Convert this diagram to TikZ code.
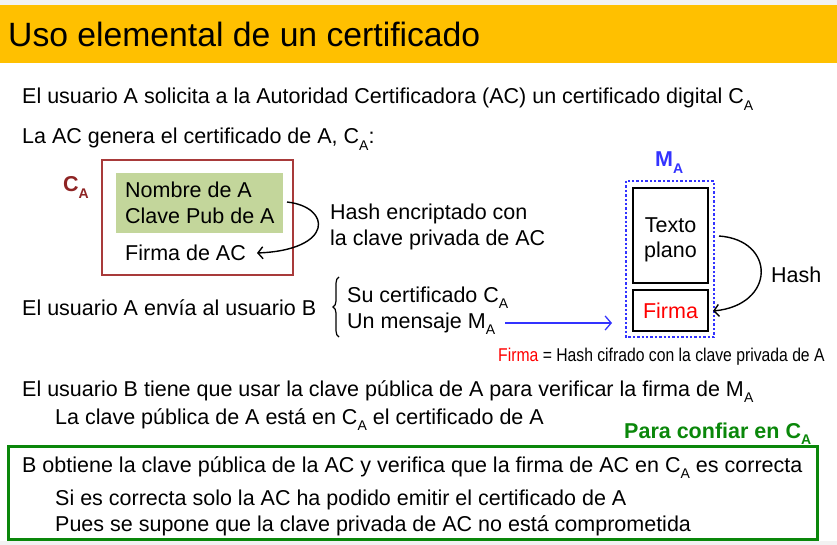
\documentclass[tikz,border=0pt]{standalone}
\usepackage{fontspec}
\setmainfont{Liberation Sans}
\usetikzlibrary{arrows.meta,decorations.pathreplacing}
\definecolor{titlebar}{HTML}{FFC000}
\definecolor{certred}{HTML}{8E2424}
\definecolor{certframe}{HTML}{A83A3A}
\definecolor{greenfill}{HTML}{C3D69B}
\definecolor{okgreen}{HTML}{0A870A}
\definecolor{msgblue}{HTML}{3333FF}
\definecolor{edgegray}{HTML}{F2F2F2}
\newcommand\subA[1]{\raisebox{-0.28em}{\fontsize{14}{14}\selectfont #1}}
\tikzset{
  body/.style={anchor=base west,inner sep=0pt,font=\fontsize{21.5}{25}\selectfont},
  barb/.style={-{Straight Barb[length=5pt,width=12pt,line width=1.4pt]}},
}
\begin{document}
\begin{tikzpicture}[x=1pt,y=-1pt]
\useasboundingbox (0,0) rectangle (837,545);
\fill[edgegray] (0,0) rectangle (837,5);
\fill[edgegray] (0,541) rectangle (837,545);
% title bar
\fill[titlebar] (0,5) rectangle (837,63);
\node[anchor=base west,inner sep=0pt,font=\fontsize{33.7}{38}\selectfont] (title) at (8,47) {Uso elemental de un certificado};

% first lines
\node[body] (l1) at (22,104) {El usuario A solicita a la Autoridad Certificadora (AC) un certificado digital C\subA{A}};
\node[body] (l2) at (22,144) {La AC genera el certificado de A, C\subA{A}:};

% certificate C_A
\node[anchor=base west,inner sep=0pt,text=certred,font=\fontsize{21.5}{25}\selectfont\bfseries] (calabel) at (63,192) {C\subA{A}};
\draw[certframe,line width=1.2pt] (102,160) rectangle (293,275);
\fill[greenfill] (116,173) rectangle (283,233);
\node[body] (nombre) at (125,198) {Nombre de A};
\node[body] (clave) at (125,224) {Clave Pub de A};
\node[body] (firmaac) at (125,260) {Firma de AC};
\coordinate (hashfrom) at (287,202);
\coordinate (hashto) at (257,253);
\draw[barb,line width=1.4pt] (hashfrom) .. controls (332,207) and (334,250) .. (hashto);
\node[body] (hash1) at (330,220) {Hash encriptado con};
\node[body] (hash2) at (330,246) {la clave privada de AC};

% A sends to B
\node[body] (envia) at (22,315) {El usuario A envía al usuario B};
\draw[line width=1.2pt,decorate,decoration={brace,amplitude=6pt}] (339,337) -- (339,277);
\node[body] (sucert) at (347,302) {Su certificado C\subA{A}};
\node[body] (mensaje) at (347,328) {Un mensaje M\subA{A}};
\coordinate (sendfrom) at (505,323);
\coordinate (sendto) at (612,323);
\draw[msgblue,line width=1.2pt,-{Straight Barb[length=6pt,width=14pt,line width=1.3pt]}] (sendfrom) -- (sendto);

% message M_A
\node[anchor=base west,inner sep=0pt,text=msgblue,font=\fontsize{21.5}{25}\selectfont\bfseries] (malabel) at (655,167) {M\subA{A}};
\draw[msgblue,line width=2.4pt,dotted] (626,181) rectangle (714,337);
\node[draw,line width=2pt,minimum width=75pt,minimum height=95pt,inner sep=0pt] (texto) at (670.5,235.5) {};
\node[align=center,inner sep=0pt,font=\fontsize{21.5}{25}\selectfont] (textolabel) at (670.5,240) {Texto\\plano};
\node[draw,line width=2pt,minimum width=75pt,minimum height=41pt,inner sep=0pt,
      text=red,font=\fontsize{21.5}{25}\selectfont] (firma) at (670.5,310.5) {Firma};
\coordinate (mhfrom) at (719,236);
\coordinate (mhto) at (713,311);
\draw[barb,line width=1.4pt] (mhfrom) .. controls (776,240) and (776,305) .. (mhto);
\node[body] (hashm) at (771,282) {Hash};
\node[anchor=base west,inner sep=0pt,font=\fontsize{18.5}{22}\selectfont] (note) at (498,361)
  {\scalebox{0.85}[1]{\textcolor{red}{Firma} = Hash cifrado con la clave privada de A}};

% B verifies
\node[body] (l3) at (22,396) {El usuario B tiene que usar la clave pública de A para verificar la firma de M\subA{A}};
\node[body] (l4) at (55,424) {La clave pública de A está en C\subA{A} el certificado de A};
\node[anchor=base west,inner sep=0pt,text=okgreen,font=\fontsize{21.5}{25}\selectfont\bfseries] (confiar) at (624,438) {Para confiar en C\subA{A}};
\draw[okgreen,line width=3pt] (8,446) rectangle (817,539);
\node[body] (b1) at (22,472) {B obtiene la clave pública de la AC y verifica que la firma de AC en C\subA{A} es correcta};
\node[body] (b2) at (55,505) {Si es correcta solo la AC ha podido emitir el certificado de A};
\node[body] (b3) at (55,531) {Pues se supone que la clave privada de AC no está comprometida};
\end{tikzpicture}
\end{document}
